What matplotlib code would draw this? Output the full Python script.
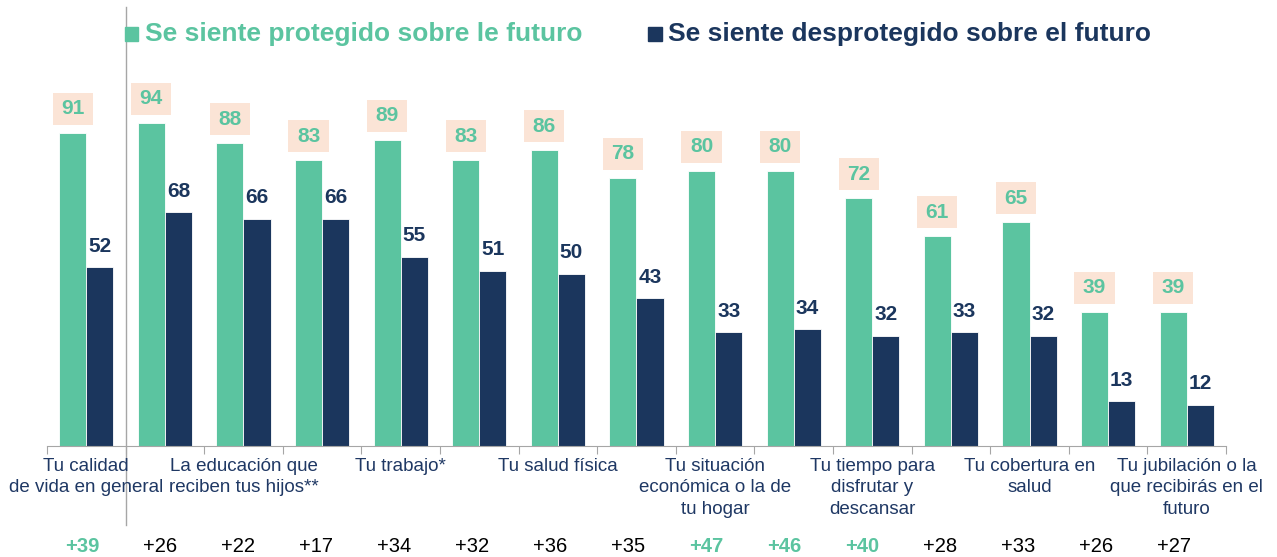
import numpy as np
import matplotlib.pyplot as plt
import matplotlib.patches as mpatches
import matplotlib.transforms as mtransforms

GREEN = "#5BC4A0"
NAVY = "#1B365D"
PEACH = "#FBE4D6"
LABEL_COL = "#1F3864"

protegido = [91, 94, 88, 83, 89, 83, 86, 78, 80, 80, 72, 61, 65, 39, 39]
desprotegido = [52, 68, 66, 66, 55, 51, 50, 43, 33, 34, 32, 33, 32, 13, 12]
categorias = ["Tu calidad\nde vida en general", "",
              "La educación que\nreciben tus hijos**", "",
              "Tu trabajo*", "",
              "Tu salud física", "",
              "Tu situación\neconómica o la de\ntu hogar", "",
              "Tu tiempo para\ndisfrutar y\ndescansar", "",
              "Tu cobertura en\nsalud", "",
              "Tu jubilación o la\nque recibirás en el\nfuturo"]
diferencias = ["+39", "+26", "+22", "+17", "+34", "+32", "+36", "+35",
               "+47", "+46", "+40", "+28", "+33", "+26", "+27"]
destacado = [True, False, False, False, False, False, False, False,
             True, True, True, False, False, False, False]
leyenda = ["Se siente protegido sobre le futuro",
           "Se siente desprotegido sobre el futuro"]

plt.rcParams['font.family'] = ['Liberation Sans', 'DejaVu Sans']

W, H = 1277, 557
fig = plt.figure(figsize=(W / 100, H / 100), dpi=100)

def fx(x):
    return x / W

def fy(y):
    return 1 - y / H

PX_PER_UNIT = 3.44
base_y = 446
ax = fig.add_axes([fx(47), fy(base_y), fx(1226) - fx(47), 1 - fy(base_y)])
ax.set_xlim(-0.5, 14.5)
ax.set_ylim(0, base_y / PX_PER_UNIT)

x = np.arange(len(protegido))
w = 0.345
ax.bar(x - w / 2, protegido, w, color=GREEN, edgecolor="white", linewidth=0.6)
ax.bar(x + w / 2, desprotegido, w, color=NAVY, edgecolor="white", linewidth=0.6)

# value labels
bw = 40 / 78.4
bh = 32 / PX_PER_UNIT
gap = 8 / PX_PER_UNIT
for xi, v in zip(x, protegido):
    cx = xi - w / 2
    ax.add_patch(mpatches.Rectangle((cx - bw / 2, v + gap), bw, bh,
                                    facecolor=PEACH, edgecolor="none", clip_on=False))
    ax.text(cx, v + gap + bh / 2, str(v), ha="center", va="center",
            fontsize=15, fontweight="bold", color=GREEN)
for xi, v in zip(x, desprotegido):
    ax.text(xi + w / 2, v + 21 / PX_PER_UNIT, str(v), ha="center", va="center",
            fontsize=15, fontweight="bold", color=NAVY)

# axis styling
for s in ["left", "right", "top"]:
    ax.spines[s].set_visible(False)
ax.spines["bottom"].set_color("#A6A6A6")
ax.set_yticks([])
ax.set_xticks(np.arange(-0.5, 15, 1))
ax.set_xticklabels([])
ax.tick_params(axis="x", length=6, color="#A6A6A6", direction="out")

blend = mtransforms.blended_transform_factory(ax.transData, fig.transFigure)

# category labels
for xi, lab in zip(x, categorias):
    if lab:
        ax.text(xi, fy(458), lab, transform=blend, ha="center", va="top",
                fontsize=13.5, color=LABEL_COL, linespacing=1.33)

# difference row (slightly tighter spacing than the bars)
dx = -0.054 + 0.9924 * x
for xi, d, hl in zip(dx, diferencias, destacado):
    ax.text(xi, fy(547), d, transform=blend, ha="center", va="center",
            fontsize=14.5, color=GREEN if hl else "black",
            fontweight="bold" if hl else "normal")

# separator line
ax.plot([0.5, 0.5], [fy(7), fy(525)], transform=blend, color="#A6A6A6",
        linewidth=1, clip_on=False)

# legend
fig.add_artist(mpatches.Rectangle((fx(125), fy(41)), fx(13), 14 / H,
                                  transform=fig.transFigure, color=GREEN))
fig.text(fx(145), fy(34), leyenda[0], ha="left", va="center", fontsize=19,
         fontweight="bold", color=GREEN)
fig.add_artist(mpatches.Rectangle((fx(648), fy(41)), fx(14), 14 / H,
                                  transform=fig.transFigure, color=NAVY))
fig.text(fx(668), fy(34), leyenda[1], ha="left", va="center", fontsize=19,
         fontweight="bold", color=NAVY)

fig.savefig("out.png", dpi=100)
